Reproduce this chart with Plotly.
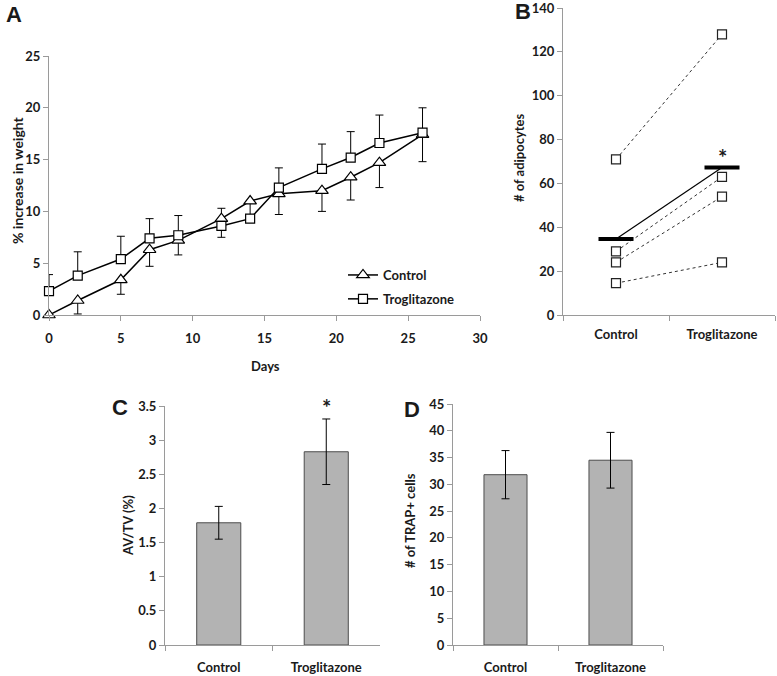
import plotly.graph_objects as go

# ---------------- Data ----------------
# Panel A: % increase in weight over days
days = [0, 2, 5, 7, 9, 12, 14, 16, 19, 21, 23, 26]
control_wt = [0, 1.4, 3.4, 6.3, 7.2, 9.3, 11.0, 11.7, 12.0, 13.3, 14.7, 17.4]
control_err_plus = [0, 0, 0, 0, 0, 1.0, 0, 0, 0, 0, 0, 0]
control_err_minus = [0, 1.3, 1.4, 1.6, 1.4, 0, 1.7, 2.0, 2.0, 2.2, 2.4, 2.6]
trog_wt = [2.3, 3.8, 5.4, 7.4, 7.7, 8.6, 9.3, 12.3, 14.1, 15.2, 16.6, 17.6]
trog_err_plus = [1.6, 2.3, 2.2, 1.9, 1.9, 0, 0, 1.9, 2.4, 2.5, 2.7, 2.4]
trog_err_minus = [0, 0, 0, 0, 0, 1.1, 0, 0, 0, 0, 0, 0]

# Panel B: # of adipocytes (paired samples)
groups = ["Control", "Troglitazone"]
adipo_control = [71, 29, 24, 14.5]
adipo_trog = [128, 63, 54, 24]

# Panel C: AV/TV (%)
avtv = [1.79, 2.83]
avtv_err = [0.24, 0.48]

# Panel D: # of TRAP+ cells
trap = [31.8, 34.5]
trap_err = [4.5, 5.2]

# ---------------- Figure ----------------
W, H = 777, 676
def xd(a, b):
    return [a / W, b / W]
def yd(top, bottom):
    return [1 - bottom / H, 1 - top / H]

AX = "#9a9a9a"
TXT = "#1a1a1a"
BAR = "#b3b3b3"

fig = go.Figure()

# Panel A traces
fig.add_trace(go.Scatter(
    x=days, y=control_wt, mode="lines+markers", name="Control", legendgroup="c",
    line=dict(color="black", width=1.5),
    marker=dict(symbol="triangle-up", size=11, color="white", line=dict(width=1.2, color="black")),
    error_y=dict(type="data", symmetric=False, array=control_err_plus,
                 arrayminus=control_err_minus, color="black", thickness=1, width=4),
    cliponaxis=False, xaxis="x", yaxis="y"))
fig.add_trace(go.Scatter(
    x=days, y=trog_wt, mode="lines+markers", name="Troglitazone", legendgroup="t",
    line=dict(color="black", width=1.5),
    marker=dict(symbol="square", size=9, color="white", line=dict(width=1.2, color="black")),
    error_y=dict(type="data", symmetric=False, array=trog_err_plus,
                 arrayminus=trog_err_minus, color="black", thickness=1, width=4),
    cliponaxis=False, xaxis="x", yaxis="y"))

# Panel B traces: paired dotted lines
for c, t in zip(adipo_control, adipo_trog):
    fig.add_trace(go.Scatter(
        x=groups, y=[c, t], mode="lines+markers", showlegend=False,
        line=dict(color="#333333", width=1, dash="dot"),
        marker=dict(symbol="square", size=9, color="white", line=dict(width=1.2, color="#222222")),
        cliponaxis=False, xaxis="x2", yaxis="y2"))
mean_c = sum(adipo_control) / len(adipo_control)
mean_t = sum(adipo_trog) / len(adipo_trog)
fig.add_trace(go.Scatter(
    x=groups, y=[mean_c, mean_t], mode="lines+markers", showlegend=False,
    line=dict(color="black", width=1.2),
    marker=dict(symbol="line-ew", size=25, line=dict(width=4, color="black")),
    cliponaxis=False, xaxis="x2", yaxis="y2"))

# Panel C
fig.add_trace(go.Bar(
    x=groups, y=avtv, showlegend=False,
    marker=dict(color=BAR, line=dict(color="#4d4d4d", width=1)),
    error_y=dict(type="data", array=avtv_err, color="black", thickness=1, width=4),
    xaxis="x3", yaxis="y3"))

# Panel D
fig.add_trace(go.Bar(
    x=groups, y=trap, showlegend=False,
    marker=dict(color=BAR, line=dict(color="#4d4d4d", width=1)),
    error_y=dict(type="data", array=trap_err, color="black", thickness=1, width=4),
    xaxis="x4", yaxis="y4"))

axis_common = dict(showgrid=False, zeroline=False, showline=True, linecolor=AX,
                   linewidth=1, ticks="outside", tickcolor=AX, ticklen=5,
                   automargin=False, ticklabeloverflow="allow",
                   tickfont=dict(size=13, color=TXT))

fig.update_layout(
    width=W, height=H, margin=dict(l=0, r=0, t=0, b=0, autoexpand=False),
    paper_bgcolor="white", plot_bgcolor="white",
    font=dict(family="Lato", size=13, color=TXT, weight="bold"),
    bargap=0.59,
    xaxis=dict(domain=xd(49, 480), range=[0, 30], dtick=5, anchor="y",
               ticklabelstandoff=6, **axis_common),
    yaxis=dict(domain=yd(56, 315), range=[0, 25], dtick=5, anchor="x", **axis_common),
    xaxis2=dict(domain=xd(563, 775), range=[-0.5, 1.5], type="category", tickson="boundaries",
                anchor="y2", ticklabelstandoff=7, **axis_common),
    yaxis2=dict(domain=yd(8, 315), range=[0, 140], dtick=20, anchor="x2", **axis_common),
    xaxis3=dict(domain=xd(165, 380), range=[-0.5, 1.5], type="category", tickson="boundaries",
                anchor="y3", ticklabelstandoff=10, **axis_common),
    yaxis3=dict(domain=yd(406, 645), range=[0, 3.5], dtick=0.5, anchor="x3", **axis_common),
    xaxis4=dict(domain=xd(453, 663), range=[-0.5, 1.5], type="category", tickson="boundaries",
                anchor="y4", ticklabelstandoff=10, **axis_common),
    yaxis4=dict(domain=yd(404, 645), range=[0, 45], dtick=5, anchor="x4", **axis_common),
    legend=dict(x=343 / W, y=1 - 260 / H, xanchor="left", yanchor="top",
                bgcolor="rgba(0,0,0,0)", font=dict(size=13, color=TXT),
                itemwidth=30, tracegroupgap=4),
)

ann = []
def pa(x, y, text, size=13, weight="bold", angle=0, family="Lato"):
    ann.append(dict(x=x / W, y=1 - y / H, xref="paper", yref="paper", text=text,
                    showarrow=False, textangle=angle, xanchor="center", yanchor="middle",
                    font=dict(size=size, weight=weight, family=family, color=TXT)))

# Panel letters
pa(14, 15, "A", size=22, family="Liberation Sans")
pa(523, 12, "B", size=22, family="Liberation Sans")
pa(120, 407, "C", size=22, family="Liberation Sans")
pa(412, 409, "D", size=22, family="Liberation Sans")
# Axis titles
pa(265, 366, "Days")
pa(17, 180, "% increase in weight", size=14, angle=-90)
pa(519, 158, "# of adipocytes", angle=-90)
pa(128, 526, "AV/TV (%)", angle=-90)
pa(410, 521, "# of TRAP+ cells", angle=-90)

fig.update_layout(annotations=ann)

# significance asterisks (data-referenced)
fig.add_annotation(x="Troglitazone", y=mean_t, xref="x2", yref="y2", text="*",
                   showarrow=False, yshift=10, font=dict(size=22, color=TXT))
fig.add_annotation(x="Troglitazone", y=avtv[1] + avtv_err[1], xref="x3", yref="y3", text="*",
                   showarrow=False, yshift=11, font=dict(size=22, color=TXT))

fig.write_html("out.html", config={"displayModeBar": False},
               post_script="document.body.style.margin='0';document.body.style.overflow='hidden';")
